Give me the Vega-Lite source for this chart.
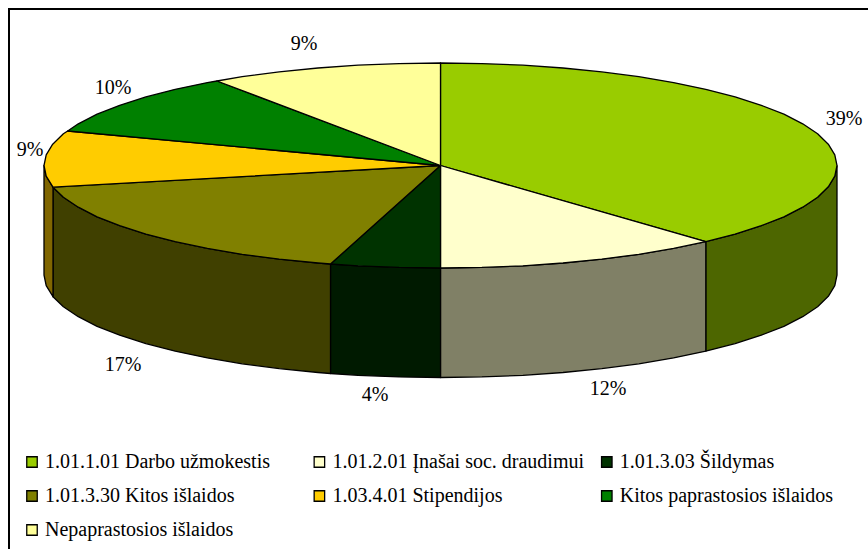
{"$schema":"https://vega.github.io/schema/vega-lite/v6.json","width":868,"height":549,"padding":0,"autosize":{"type":"none"},"background":"white","view":{"stroke":null},
"datasets":{
"frame":[{"i":0,"x":9,"y":549},{"i":1,"x":9,"y":9},{"i":2,"x":868,"y":9}],
"labels":[{"t":"39%","x":844,"y":119},{"t":"12%","x":608,"y":389},{"t":"4%","x":375,"y":395},{"t":"17%","x":123,"y":365},{"t":"9%","x":30,"y":150},{"t":"10%","x":113,"y":88},{"t":"9%","x":304,"y":44}],
"sides":[
{"s":"g","i":0,"x":837,"y":165.5},{"s":"g","i":1,"x":834.8,"y":176.2},{"s":"g","i":2,"x":828.3,"y":186.8},{"s":"g","i":3,"x":817.6,"y":197.2},{"s":"g","i":4,"x":802.7,"y":207.2},{"s":"g","i":5,"x":783.9,"y":216.8},{"s":"g","i":6,"x":761.3,"y":225.7},{"s":"g","i":7,"x":735.1,"y":234.1},{"s":"g","i":8,"x":705.8,"y":241.7},{"s":"g","i":9,"x":705.8,"y":351.2},{"s":"g","i":10,"x":735.1,"y":343.6},{"s":"g","i":11,"x":761.3,"y":335.2},{"s":"g","i":12,"x":783.9,"y":326.3},{"s":"g","i":13,"x":802.7,"y":316.7},{"s":"g","i":14,"x":817.6,"y":306.7},{"s":"g","i":15,"x":828.3,"y":296.3},{"s":"g","i":16,"x":834.8,"y":285.7},{"s":"g","i":17,"x":837,"y":275},{"s":"g","i":18,"x":837,"y":165.5},
{"s":"c","i":0,"x":705.8,"y":241.7},{"s":"c","i":1,"x":673.6,"y":248.4},{"s":"c","i":2,"x":638.8,"y":254.3},{"s":"c","i":3,"x":601.8,"y":259.1},{"s":"c","i":4,"x":563,"y":263},{"s":"c","i":5,"x":522.9,"y":265.8},{"s":"c","i":6,"x":481.9,"y":267.4},{"s":"c","i":7,"x":440.5,"y":268},{"s":"c","i":8,"x":440.5,"y":377.5},{"s":"c","i":9,"x":481.9,"y":376.9},{"s":"c","i":10,"x":522.9,"y":375.3},{"s":"c","i":11,"x":563,"y":372.5},{"s":"c","i":12,"x":601.8,"y":368.6},{"s":"c","i":13,"x":638.8,"y":363.8},{"s":"c","i":14,"x":673.6,"y":357.9},{"s":"c","i":15,"x":705.8,"y":351.2},{"s":"c","i":16,"x":705.8,"y":241.7},
{"s":"d","i":0,"x":440.5,"y":268},{"s":"d","i":1,"x":399.1,"y":267.4},{"s":"d","i":2,"x":358.1,"y":265.8},{"s":"d","i":3,"x":330.5,"y":264},{"s":"d","i":4,"x":330.5,"y":373.5},{"s":"d","i":5,"x":358.1,"y":375.3},{"s":"d","i":6,"x":399.1,"y":376.9},{"s":"d","i":7,"x":440.5,"y":377.5},{"s":"d","i":8,"x":440.5,"y":268},
{"s":"o","i":0,"x":330.5,"y":264},{"s":"o","i":1,"x":318,"y":263},{"s":"o","i":2,"x":279.2,"y":259.1},{"s":"o","i":3,"x":242.2,"y":254.3},{"s":"o","i":4,"x":207.4,"y":248.4},{"s":"o","i":5,"x":175.2,"y":241.7},{"s":"o","i":6,"x":145.9,"y":234.1},{"s":"o","i":7,"x":119.7,"y":225.7},{"s":"o","i":8,"x":97.1,"y":216.8},{"s":"o","i":9,"x":78.3,"y":207.2},{"s":"o","i":10,"x":63.4,"y":197.2},{"s":"o","i":11,"x":53,"y":187.2},{"s":"o","i":12,"x":53,"y":296.7},{"s":"o","i":13,"x":63.4,"y":306.7},{"s":"o","i":14,"x":78.3,"y":316.7},{"s":"o","i":15,"x":97.1,"y":326.3},{"s":"o","i":16,"x":119.7,"y":335.2},{"s":"o","i":17,"x":145.9,"y":343.6},{"s":"o","i":18,"x":175.2,"y":351.2},{"s":"o","i":19,"x":207.4,"y":357.9},{"s":"o","i":20,"x":242.2,"y":363.8},{"s":"o","i":21,"x":279.2,"y":368.6},{"s":"o","i":22,"x":318,"y":372.5},{"s":"o","i":23,"x":330.5,"y":373.5},{"s":"o","i":24,"x":330.5,"y":264},
{"s":"y","i":0,"x":53,"y":187.2},{"s":"y","i":1,"x":46.2,"y":176.2},{"s":"y","i":2,"x":44,"y":165.5},{"s":"y","i":3,"x":44,"y":275},{"s":"y","i":4,"x":46.2,"y":285.7},{"s":"y","i":5,"x":53,"y":296.7},{"s":"y","i":6,"x":53,"y":187.2}
],
"tops":[
{"s":"1.01.1.01 Darbo užmokestis","i":0,"x":440.5,"y":165.5},{"s":"1.01.1.01 Darbo užmokestis","i":1,"x":440.5,"y":63},{"s":"1.01.1.01 Darbo užmokestis","i":2,"x":481.9,"y":63.6},{"s":"1.01.1.01 Darbo užmokestis","i":3,"x":522.9,"y":65.2},{"s":"1.01.1.01 Darbo užmokestis","i":4,"x":563,"y":68},{"s":"1.01.1.01 Darbo užmokestis","i":5,"x":601.8,"y":71.9},{"s":"1.01.1.01 Darbo užmokestis","i":6,"x":638.8,"y":76.7},{"s":"1.01.1.01 Darbo užmokestis","i":7,"x":673.6,"y":82.6},{"s":"1.01.1.01 Darbo užmokestis","i":8,"x":705.8,"y":89.3},{"s":"1.01.1.01 Darbo užmokestis","i":9,"x":735.1,"y":96.9},{"s":"1.01.1.01 Darbo užmokestis","i":10,"x":761.3,"y":105.3},{"s":"1.01.1.01 Darbo užmokestis","i":11,"x":783.9,"y":114.2},{"s":"1.01.1.01 Darbo užmokestis","i":12,"x":802.7,"y":123.8},{"s":"1.01.1.01 Darbo užmokestis","i":13,"x":817.6,"y":133.8},{"s":"1.01.1.01 Darbo užmokestis","i":14,"x":828.3,"y":144.2},{"s":"1.01.1.01 Darbo užmokestis","i":15,"x":834.8,"y":154.8},{"s":"1.01.1.01 Darbo užmokestis","i":16,"x":837,"y":165.5},{"s":"1.01.1.01 Darbo užmokestis","i":17,"x":834.8,"y":176.2},{"s":"1.01.1.01 Darbo užmokestis","i":18,"x":828.3,"y":186.8},{"s":"1.01.1.01 Darbo užmokestis","i":19,"x":817.6,"y":197.2},{"s":"1.01.1.01 Darbo užmokestis","i":20,"x":802.7,"y":207.2},{"s":"1.01.1.01 Darbo užmokestis","i":21,"x":783.9,"y":216.8},{"s":"1.01.1.01 Darbo užmokestis","i":22,"x":761.3,"y":225.7},{"s":"1.01.1.01 Darbo užmokestis","i":23,"x":735.1,"y":234.1},{"s":"1.01.1.01 Darbo užmokestis","i":24,"x":705.8,"y":241.7},{"s":"1.01.1.01 Darbo užmokestis","i":25,"x":440.5,"y":165.5},
{"s":"1.01.2.01 Įnašai soc. draudimui","i":0,"x":440.5,"y":165.5},{"s":"1.01.2.01 Įnašai soc. draudimui","i":1,"x":705.8,"y":241.7},{"s":"1.01.2.01 Įnašai soc. draudimui","i":2,"x":673.6,"y":248.4},{"s":"1.01.2.01 Įnašai soc. draudimui","i":3,"x":638.8,"y":254.3},{"s":"1.01.2.01 Įnašai soc. draudimui","i":4,"x":601.8,"y":259.1},{"s":"1.01.2.01 Įnašai soc. draudimui","i":5,"x":563,"y":263},{"s":"1.01.2.01 Įnašai soc. draudimui","i":6,"x":522.9,"y":265.8},{"s":"1.01.2.01 Įnašai soc. draudimui","i":7,"x":481.9,"y":267.4},{"s":"1.01.2.01 Įnašai soc. draudimui","i":8,"x":440.5,"y":268},{"s":"1.01.2.01 Įnašai soc. draudimui","i":9,"x":440.5,"y":165.5},
{"s":"1.01.3.03 Šildymas","i":0,"x":440.5,"y":165.5},{"s":"1.01.3.03 Šildymas","i":1,"x":440.5,"y":268},{"s":"1.01.3.03 Šildymas","i":2,"x":399.1,"y":267.4},{"s":"1.01.3.03 Šildymas","i":3,"x":358.1,"y":265.8},{"s":"1.01.3.03 Šildymas","i":4,"x":330.5,"y":264},{"s":"1.01.3.03 Šildymas","i":5,"x":440.5,"y":165.5},
{"s":"1.01.3.30 Kitos išlaidos","i":0,"x":440.5,"y":165.5},{"s":"1.01.3.30 Kitos išlaidos","i":1,"x":330.5,"y":264},{"s":"1.01.3.30 Kitos išlaidos","i":2,"x":318,"y":263},{"s":"1.01.3.30 Kitos išlaidos","i":3,"x":279.2,"y":259.1},{"s":"1.01.3.30 Kitos išlaidos","i":4,"x":242.2,"y":254.3},{"s":"1.01.3.30 Kitos išlaidos","i":5,"x":207.4,"y":248.4},{"s":"1.01.3.30 Kitos išlaidos","i":6,"x":175.2,"y":241.7},{"s":"1.01.3.30 Kitos išlaidos","i":7,"x":145.9,"y":234.1},{"s":"1.01.3.30 Kitos išlaidos","i":8,"x":119.7,"y":225.7},{"s":"1.01.3.30 Kitos išlaidos","i":9,"x":97.1,"y":216.8},{"s":"1.01.3.30 Kitos išlaidos","i":10,"x":78.3,"y":207.2},{"s":"1.01.3.30 Kitos išlaidos","i":11,"x":63.4,"y":197.2},{"s":"1.01.3.30 Kitos išlaidos","i":12,"x":53,"y":187.2},{"s":"1.01.3.30 Kitos išlaidos","i":13,"x":440.5,"y":165.5},
{"s":"1.03.4.01 Stipendijos","i":0,"x":440.5,"y":165.5},{"s":"1.03.4.01 Stipendijos","i":1,"x":53,"y":187.2},{"s":"1.03.4.01 Stipendijos","i":2,"x":46.2,"y":176.2},{"s":"1.03.4.01 Stipendijos","i":3,"x":44,"y":165.5},{"s":"1.03.4.01 Stipendijos","i":4,"x":46.2,"y":154.8},{"s":"1.03.4.01 Stipendijos","i":5,"x":52.7,"y":144.2},{"s":"1.03.4.01 Stipendijos","i":6,"x":63.4,"y":133.8},{"s":"1.03.4.01 Stipendijos","i":7,"x":67.7,"y":131},{"s":"1.03.4.01 Stipendijos","i":8,"x":440.5,"y":165.5},
{"s":"Kitos paprastosios išlaidos","i":0,"x":440.5,"y":165.5},{"s":"Kitos paprastosios išlaidos","i":1,"x":67.7,"y":131},{"s":"Kitos paprastosios išlaidos","i":2,"x":78.3,"y":123.8},{"s":"Kitos paprastosios išlaidos","i":3,"x":97.1,"y":114.2},{"s":"Kitos paprastosios išlaidos","i":4,"x":119.7,"y":105.3},{"s":"Kitos paprastosios išlaidos","i":5,"x":145.9,"y":96.9},{"s":"Kitos paprastosios išlaidos","i":6,"x":175.2,"y":89.3},{"s":"Kitos paprastosios išlaidos","i":7,"x":207.4,"y":82.6},{"s":"Kitos paprastosios išlaidos","i":8,"x":217,"y":81},{"s":"Kitos paprastosios išlaidos","i":9,"x":440.5,"y":165.5},
{"s":"Nepaprastosios išlaidos","i":0,"x":440.5,"y":165.5},{"s":"Nepaprastosios išlaidos","i":1,"x":217,"y":81},{"s":"Nepaprastosios išlaidos","i":2,"x":242.2,"y":76.7},{"s":"Nepaprastosios išlaidos","i":3,"x":279.2,"y":71.9},{"s":"Nepaprastosios išlaidos","i":4,"x":318,"y":68},{"s":"Nepaprastosios išlaidos","i":5,"x":358.1,"y":65.2},{"s":"Nepaprastosios išlaidos","i":6,"x":399.1,"y":63.6},{"s":"Nepaprastosios išlaidos","i":7,"x":440.5,"y":63},{"s":"Nepaprastosios išlaidos","i":8,"x":440.5,"y":165.5}
]},
"layer":[
{"data":{"name":"frame"},"mark":{"type":"line","stroke":"#000","strokeWidth":2},"encoding":{"x":{"field":"x","type":"quantitative","axis":null,"scale":{"domain":[0,868],"nice":false,"zero":false}},"y":{"field":"y","type":"quantitative","axis":null,"scale":{"domain":[549,0],"nice":false,"zero":false}},"order":{"field":"i"}}},
{"data":{"name":"sides"},"mark":{"type":"line","stroke":"#000","strokeWidth":1.3,"strokeJoin":"round"},"encoding":{"x":{"field":"x","type":"quantitative"},"y":{"field":"y","type":"quantitative"},"order":{"field":"i"},"fill":{"field":"s","type":"nominal","legend":null,"scale":{"domain":["g","c","d","o","y"],"range":["#4d6600","#808066","#001a00","#404000","#806600"]}}}},
{"data":{"name":"tops"},"mark":{"type":"line","stroke":"#000","strokeWidth":1.3,"strokeJoin":"round"},"encoding":{"x":{"field":"x","type":"quantitative"},"y":{"field":"y","type":"quantitative"},"order":{"field":"i"},"fill":{"field":"s","type":"nominal","scale":{"domain":["1.01.1.01 Darbo užmokestis","1.01.2.01 Įnašai soc. draudimui","1.01.3.03 Šildymas","1.01.3.30 Kitos išlaidos","1.03.4.01 Stipendijos","Kitos paprastosios išlaidos","Nepaprastosios išlaidos"],"range":["#99cc00","#ffffcc","#003300","#808000","#ffcc00","#008000","#ffff99"]},"legend":{"title":null,"orient":"none","direction":"horizontal","legendX":22,"legendY":452,"columns":3,"gridAlign":"all","columnPadding":12.4,"rowPadding":14,"symbolType":"square","symbolSize":110,"symbolStrokeColor":"#000","symbolStrokeWidth":1.3,"labelFont":"Liberation Serif","labelFontSize":20,"labelColor":"#000","labelLimit":320,"labelOffset":3}}}},
{"data":{"name":"labels"},"mark":{"type":"text","font":"Liberation Serif","fontSize":20,"color":"#000","align":"center","baseline":"middle"},"encoding":{"x":{"field":"x","type":"quantitative"},"y":{"field":"y","type":"quantitative"},"text":{"field":"t","type":"nominal"}}}
],
"resolve":{"scale":{"fill":"independent"}}
}
